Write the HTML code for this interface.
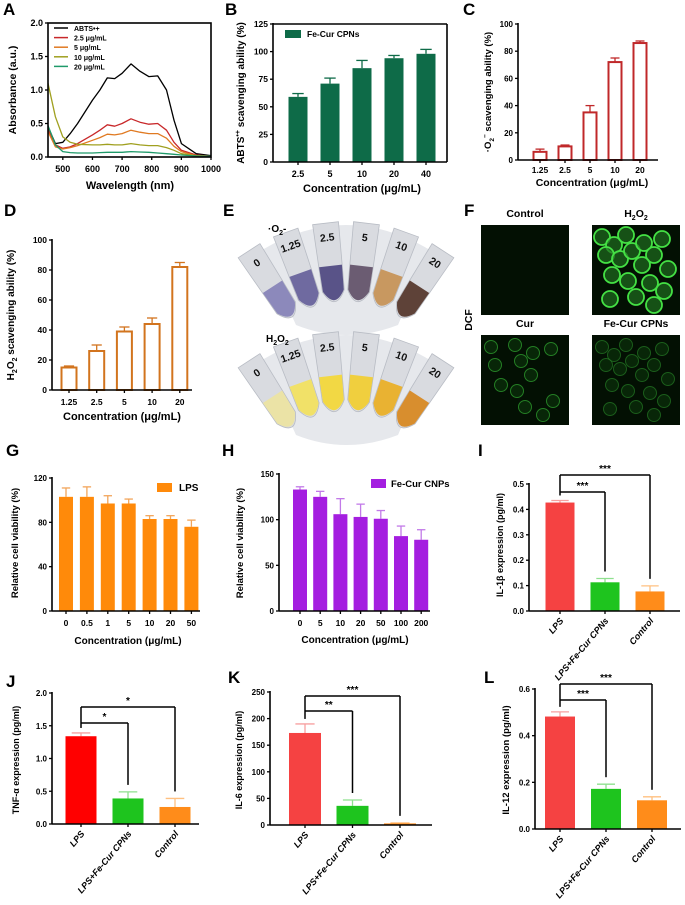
<!DOCTYPE html>
<html><head><meta charset="utf-8"><style>
html,body{margin:0;padding:0;background:#fff;}
svg{display:block;font-family:"Liberation Sans",Arial,sans-serif;font-weight:bold;}
</style></head><body>
<svg id="fig" width="685" height="905" viewBox="0 0 685 905" xmlns="http://www.w3.org/2000/svg"></svg>
<script>
// ---------- DATA ----------
const aWave=[450,475,500,525,550,600,625,650,675,700,730,760,790,820,850,875,900,950,1000];
const aABTS=[0.45,0.2,0.22,0.35,0.5,0.85,1.0,1.18,1.17,1.25,1.39,1.28,1.2,1.21,1.0,0.55,0.2,0.05,0.02];
const a25=[0.42,0.18,0.13,0.15,0.2,0.33,0.4,0.48,0.46,0.5,0.57,0.52,0.49,0.5,0.4,0.22,0.1,0.03,0.01];
const a5=[0.38,0.15,0.12,0.14,0.17,0.25,0.29,0.34,0.33,0.35,0.4,0.37,0.35,0.35,0.28,0.16,0.08,0.02,0.01];
const a10=[1.1,0.6,0.3,0.22,0.19,0.18,0.18,0.19,0.18,0.18,0.2,0.18,0.17,0.17,0.14,0.1,0.05,0.02,0.01];
const a20=[0.47,0.18,0.08,0.065,0.06,0.06,0.065,0.07,0.07,0.07,0.08,0.075,0.07,0.06,0.05,0.04,0.03,0.015,0.01];
const aLegend=["ABTS\u2022+","2.5 \u03bcg/mL","5 \u03bcg/mL","10 \u03bcg/mL","20 \u03bcg/mL"];

const bCats=["2.5","5","10","20","40"];
const bVals=[59,71,85,94,98];
const bErrs=[3,5,7,2.5,4];
const bTicks=[0,25,50,75,100,125];

const cCats=["1.25","2.5","5","10","20"];
const cVals=[6,10,35,72,86];
const cErrs=[2,1,5,3,1.5];
const cTicks=[0,20,40,60,80,100];

const dCats=["1.25","2.5","5","10","20"];
const dVals=[15,26,39,44,82];
const dErrs=[1,4,3,4,3];
const dTicks=[0,20,40,60,80,100];

const gCats=["0","0.5","1","5","10","20","50"];
const gVals=[103,103,97,97,83,83,76];
const gErrs=[8,9,7,4,3,3,6];
const gTicks=[0,40,80,120];

const hCats=["0","5","10","20","50","100","200"];
const hVals=[133,125,106,103,101,82,78];
const hErrs=[3,6,17,14,9,11,11];
const hTicks=[0,50,100,150];

const grpCats=["LPS","LPS+Fe-Cur CPNs","Control"];
const iVals=[0.427,0.113,0.077];
const iErrs=[0.008,0.015,0.022];
const iTicks=[0,0.1,0.2,0.3,0.4,0.5];
const iTickLabels=["0.0","0.1","0.2","0.3","0.4","0.5"];
const iSig=["***","***"];

const jVals=[1.34,0.39,0.26];
const jErrs=[0.05,0.1,0.13];
const jTicks=[0,0.5,1,1.5,2];
const jTickLabels=["0.0","0.5","1.0","1.5","2.0"];
const jSig=["*","*"];

const kVals=[173,36,3];
const kErrs=[17,11,1];
const kTicks=[0,50,100,150,200,250];
const kSig=["**","***"];

const lVals=[0.482,0.172,0.123];
const lErrs=[0.02,0.02,0.015];
const lTicks=[0,0.2,0.4,0.6];
const lTickLabels=["0.0","0.2","0.4","0.6"];
const lSig=["***","***"];

// ---------- HELPERS ----------
const NS="http://www.w3.org/2000/svg";
const svg=document.getElementById('fig');
function mk(parent,tag,attrs,text){
  const e=document.createElementNS(NS,tag);
  for(const k in attrs) e.setAttribute(k,attrs[k]);
  if(text!==undefined) e.textContent=text;
  parent.appendChild(e);
  return e;
}
function grp(name){
  const g=mk(svg,'g',{});
  
  
  return g;
}
function letter(g,x,y,t){
  const e=mk(g,'text',{x:x,y:y,'font-size':17},t);
  
  
}
function line(g,x1,y1,x2,y2,col,w,name){
  const e=mk(g,'line',{x1:x1,y1:y1,x2:x2,y2:y2,stroke:col||'#000','stroke-width':w||1.5});
  
  
  return e;
}
function ytitle(g,x,y,html,fs){
  const e=mk(g,'text',{x:x,y:y,'font-size':fs||10,'text-anchor':'middle',transform:'rotate(-90 '+x+' '+y+')'});
  e.innerHTML=html;
  
  
}
function xtitle(g,x,y,t,fs){
  const e=mk(g,'text',{x:x,y:y,'font-size':fs||11,'text-anchor':'middle'},t);
  
  
}

// generic bar chart
function barChart(g,c){
  const ys=v=>c.yBot-(v/c.max)*(c.yBot-c.yTop);
  const xs=i=>c.first+i*c.step;
  // bars
  c.vals.forEach((v,i)=>{
    const col=Array.isArray(c.color)?c.color[i]:c.color;
    const top=ys(v+c.errs[i]);
    const e1=line(g,xs(i),ys(v),xs(i),top,c.errColor?c.errColor[i]:col,1.3,'error-bar');
    const e2=line(g,xs(i)-c.w*0.3,top,xs(i)+c.w*0.3,top,c.errColor?c.errColor[i]:col,1.3,'error-cap');
    let r;
    if(c.outline){
      r=mk(g,'rect',{x:xs(i)-c.w/2+1,y:ys(v),width:c.w-2,height:c.yBot-ys(v),fill:'#fff',stroke:col,'stroke-width':2});
    }else{
      r=mk(g,'rect',{x:xs(i)-c.w/2,y:ys(v),width:c.w,height:c.yBot-ys(v),fill:col});
    }
    
    
  });
  // axes
  line(g,c.x0,c.yTop-1,c.x0,c.yBot,'#000',1.6,'y-axis');
  line(g,c.x0,c.yBot,c.xEnd,c.yBot,'#000',1.6,'x-axis');
  if(c.box){
    line(g,c.x0,c.yTop,c.xEnd,c.yTop,'#000',1.6,'frame-top');
    line(g,c.xEnd,c.yTop,c.xEnd,c.yBot,'#000',1.6,'frame-right');
  }
  c.ticks.forEach((t,i)=>{
    line(g,c.x0-3,ys(t),c.x0,ys(t),'#000',1.3,'y-tick');
    const e=mk(g,'text',{x:c.x0-5,y:ys(t)+3,'font-size':c.tfs||8.5,'text-anchor':'end'},c.tickLabels?c.tickLabels[i]:String(t));
    
    
  });
  c.cats.forEach((cat,i)=>{
    line(g,xs(i),c.yBot,xs(i),c.yBot+3,'#000',1.3,'x-tick');
    let e;
    if(c.rot){
      const ax=xs(i)+4, ay=c.yBot+10;
      e=mk(g,'text',{x:ax,y:ay,'font-size':9,'font-style':'italic','text-anchor':'end',transform:'rotate(-50 '+ax+' '+ay+')'},cat);
    }else{
      e=mk(g,'text',{x:xs(i),y:c.labY,'font-size':c.lfs||9,'text-anchor':'middle'},cat);
    }
    
    
  });
  if(c.sig){
    const lx=xs(0);
    const ltop=ys(c.vals[0]+c.errs[0])-5;
    line(g,lx,ltop,lx,c.outerY,'#000',1.5,'bracket');
    [[1,c.innerY,c.sig[0]],[2,c.outerY,c.sig[1]]].forEach(([k,yy,s])=>{
      const bx=xs(k);
      line(g,lx,yy,bx,yy,'#000',1.5,'bracket');
      line(g,bx,yy,bx,ys(c.vals[k]+c.errs[k])-7,'#000',1.5,'bracket');
      const st=mk(g,'text',{x:(lx+bx)/2,y:yy-3,'font-size':10,'text-anchor':'middle'},s);
      
      
    });
  }
  return ys;
}

// ---------- PANEL A ----------
(function(){
  const g=grp('panel-a-absorbance');
  letter(g,3,15,'A');
  const x0=48,x1=211,yT=23,yB=157;
  const xs=w=>x0+(w-450)/550*(x1-x0);
  const ys=v=>yB-v/2*(yB-yT);
  const cols=['#000000','#c8282a','#e07a22','#a0a020','#1f9a6a'];
  const series=[aABTS,a25,a5,a10,a20];
  series.forEach((s,k)=>{
    const d=s.map((v,i)=>(i?'L':'M')+xs(aWave[i]).toFixed(1)+' '+ys(v).toFixed(1)).join(' ');
    const p=mk(g,'path',{d:d,fill:'none',stroke:cols[k],'stroke-width':1.3,'stroke-linejoin':'round'});
    
    
  });
  const fr=mk(g,'rect',{x:x0,y:yT,width:x1-x0,height:yB-yT,fill:'none',stroke:'#000','stroke-width':1.6});
  
  
  [0,0.5,1,1.5,2].forEach(t=>{
    line(g,x0-3,ys(t),x0,ys(t),'#000',1.3,'y-tick');
    const e=mk(g,'text',{x:x0-5,y:ys(t)+3,'font-size':9,'text-anchor':'end'},t.toFixed(1));
    
    
  });
  [500,600,700,800,900,1000].forEach(t=>{
    line(g,xs(t),yB,xs(t),yB+3,'#000',1.3,'x-tick');
    const e=mk(g,'text',{x:xs(t),y:172,'font-size':9,'text-anchor':'middle'},String(t));
    
    
  });
  xtitle(g,130,189,'Wavelength (nm)',11);
  ytitle(g,16,90,'Absorbance (a.u.)',10.5);
  aLegend.forEach((t,k)=>{
    const yy=28+k*9.6;
    line(g,54,yy,68,yy,cols[k],1.5,'legend-swatch');
    const e=mk(g,'text',{x:74,y:yy+3,'font-size':7},t);
    
    
  });
})();

// ---------- PANEL B ----------
(function(){
  const g=grp('panel-b-abts');
  letter(g,225,15,'B');
  barChart(g,{x0:273,xEnd:447,yTop:24,yBot:162,max:125,ticks:bTicks,cats:bCats,vals:bVals,errs:bErrs,first:298,step:32,w:19,color:'#0e6b48',box:true,labY:177});
  const r=mk(g,'rect',{x:285,y:30,width:16,height:8,fill:'#0e6b48'});
  
  
  const t=mk(g,'text',{x:307,y:37,'font-size':8.5},'Fe-Cur CPNs');
  
  
  xtitle(g,362,192,'Concentration (\u03bcg/mL)',11);
  ytitle(g,244,93,'ABTS<tspan dy="-4" font-size="7">\u2022+</tspan><tspan dy="4"> scavenging ability (%)</tspan>',10);
})();

// ---------- PANEL C ----------
(function(){
  const g=grp('panel-c-superoxide');
  letter(g,463,15,'C');
  barChart(g,{x0:518,xEnd:658,yTop:24,yBot:160,max:100,ticks:cTicks,cats:cCats,vals:cVals,errs:cErrs,first:540,step:25,w:15,color:'#c0282a',outline:true,labY:173,lfs:8.5,tfs:8});
  xtitle(g,592,186,'Concentration (\u03bcg/mL)',10.5);
  ytitle(g,491,92,'\u00b7O<tspan dy="3" font-size="6.5">2</tspan><tspan dy="-7" font-size="6.5">\u2212</tspan><tspan dy="4"> scavenging ability (%)</tspan>',9.5);
})();

// ---------- PANEL D ----------
(function(){
  const g=grp('panel-d-h2o2');
  letter(g,4,216,'D');
  barChart(g,{x0:52,xEnd:192,yTop:240,yBot:390,max:100,ticks:dTicks,cats:dCats,vals:dVals,errs:dErrs,first:69,step:27.7,w:17,color:'#d2741e',outline:true,labY:405,lfs:8.5,tfs:8.5});
  xtitle(g,122,420,'Concentration (\u03bcg/mL)',11);
  ytitle(g,14,315,'H<tspan dy="3" font-size="7">2</tspan><tspan dy="-3">O</tspan><tspan dy="3" font-size="7">2</tspan><tspan dy="-3"> scavenging ability (%)</tspan>',10);
})();

// ---------- PANEL E (photos approximated) ----------
(function(){
  const g=grp('panel-e-photos');
  letter(g,223,216,'E');
  const labels=["0","1.25","2.5","5","10","20"];
  const topLiq=['#8c89bb','#6f6aa0','#595388','#6b5c72','#c89860','#5e4238'];
  const botLiq=['#ebe3a6','#f1e168','#f2d844','#f0cf3e','#e9b232','#d88e2e'];
  function fan(cy,liq,name){
    const fg=mk(g,'g',{});
    
    
    const bg=mk(fg,'path',{d:'M262 '+(cy-150)+' Q346 '+(cy-200)+' 430 '+(cy-150)+' L398 '+(cy-75)+' Q346 '+(cy-55)+' 296 '+(cy-75)+' Z',fill:'#e6e8ec'});
    
    
    labels.forEach((lb,i)=>{
      const a=-33+i*13.2;
      const tg=mk(fg,'g',{transform:'rotate('+a+' 346 '+cy+')'});
      
      
      const body=mk(tg,'path',{d:'M333 '+(cy-178)+' L359 '+(cy-178)+' L357 '+(cy-110)+' Q346 '+(cy-88)+' 335 '+(cy-110)+' Z',fill:'#d9dbe0',stroke:'#b8bcc4','stroke-width':0.8});
      
      
      const lq=mk(tg,'path',{d:'M334.5 '+(cy-135)+' L357.5 '+(cy-135)+' L356.5 '+(cy-110)+' Q346 '+(cy-91)+' 335.5 '+(cy-110)+' Z',fill:liq[i]});
      
      
      const t=mk(tg,'text',{x:346,y:cy-160,'font-size':10.5,'text-anchor':'middle',fill:'#111'},lb);
      
      
    });
  }
  fan(400,topLiq,'superoxide-tubes');
  fan(510,botLiq,'h2o2-tubes');
  const t1=mk(g,'text',{x:268,y:232,'font-size':10});
  t1.innerHTML='\u00b7O<tspan dy="3" font-size="7">2</tspan><tspan dy="-3">-</tspan>';
  
  
  const t2=mk(g,'text',{x:266,y:342,'font-size':10});
  t2.innerHTML='H<tspan dy="3" font-size="7">2</tspan><tspan dy="-3">O</tspan><tspan dy="3" font-size="7">2</tspan>';
  
  
})();

// ---------- PANEL F (fluorescence images) ----------
(function(){
  const g=grp('panel-f-dcf');
  letter(g,464,216,'F');
  const boxes=[
    {x:481,y:225,t:'Control',col:'#1a6a1a',op:0.25,n:'control-image'},
    {x:592,y:225,t:'H<tspan dy="3" font-size="7">2</tspan><tspan dy="-3">O</tspan><tspan dy="3" font-size="7">2</tspan>',col:'#44e044',op:1,n:'h2o2-image'},
    {x:481,y:335,t:'Cur',col:'#2fa02f',op:0.75,n:'cur-image'},
    {x:592,y:335,t:'Fe-Cur CPNs',col:'#2a8a2a',op:0.6,n:'fe-cur-image'}
  ];
  const cells=[[10,12],[22,20],[34,10],[14,30],[28,34],[40,26],[52,18],[62,30],[50,40],[70,14],[76,44],[20,50],[36,56],[58,58],[72,66],[44,72],[18,74],[62,80]];
  boxes.forEach((b,k)=>{
    const r=mk(g,'rect',{x:b.x,y:b.y,width:88,height:90,fill:'#031003'});
    
    
    if(k>0){
      cells.forEach(([cx,cy],j)=>{
        if(k===2&&j%3===1)return;
        const c=mk(g,'circle',{cx:b.x+cx,cy:b.y+cy,r:k===1?8:6.5,fill:k===1?'#1f6e1f':'#0c300c','fill-opacity':0.7,stroke:b.col,'stroke-width':k===1?1.8:1,'stroke-opacity':b.op});
        
        
      });
    }
    const t=mk(g,'text',{x:b.x+44,y:b.y-8,'font-size':10.5,'text-anchor':'middle'});
    t.innerHTML=b.t;
    
    
  });
  ytitle(g,472,320,'DCF',10.5);
})();

// ---------- PANEL G ----------
(function(){
  const g=grp('panel-g-lps-viability');
  letter(g,6,456,'G');
  barChart(g,{x0:52,xEnd:200,yTop:478,yBot:611,max:120,ticks:gTicks,cats:gCats,vals:gVals,errs:gErrs,first:66,step:20.9,w:14,color:'#ff8a0a',errColor:Array(7).fill('#f2a55a'),labY:626,lfs:8.5,tfs:8});
  const r=mk(g,'rect',{x:157,y:483,width:15,height:9,fill:'#ff8a0a'});
  
  
  const t=mk(g,'text',{x:179,y:491,'font-size':10},'LPS');
  
  
  xtitle(g,128,644,'Concentration (\u03bcg/mL)',10);
  ytitle(g,18,543,'Relative cell viability (%)',9.5);
})();

// ---------- PANEL H ----------
(function(){
  const g=grp('panel-h-fecur-viability');
  letter(g,222,456,'H');
  barChart(g,{x0:279,xEnd:430,yTop:474,yBot:611,max:150,ticks:hTicks,cats:hCats,vals:hVals,errs:hErrs,first:300,step:20.2,w:14,color:'#a41ee0',errColor:Array(7).fill('#c27ae8'),labY:626,lfs:8.5,tfs:8});
  const r=mk(g,'rect',{x:371,y:479,width:15,height:9,fill:'#a41ee0'});
  
  
  const t=mk(g,'text',{x:391,y:487,'font-size':9.5},'Fe-Cur CNPs');
  
  
  xtitle(g,355,643,'Concentration (\u03bcg/mL)',10);
  ytitle(g,243,543,'Relative cell viability (%)',9.5);
})();

// ---------- PANELS I, J, K, L ----------
const pale=['#f7a0a0','#8ee08e','#ffc080'];
(function(){
  const g=grp('panel-i-il1b');
  letter(g,478,456,'I');
  barChart(g,{x0:529,xEnd:680,yTop:484,yBot:611,max:0.5,ticks:iTicks,tickLabels:iTickLabels,cats:grpCats,vals:iVals,errs:iErrs,first:560,step:45,w:29,color:['#f54242','#1ec41e','#ff8c1a'],errColor:pale,rot:true,sig:iSig,innerY:492,outerY:475,tfs:8});
  ytitle(g,503,545,'IL-1\u03b2 expression (pg/ml)',9);
})();
(function(){
  const g=grp('panel-j-tnfa');
  letter(g,6,687,'J');
  barChart(g,{x0:52,xEnd:199,yTop:693,yBot:824,max:2,ticks:jTicks,tickLabels:jTickLabels,cats:grpCats,vals:jVals,errs:jErrs,first:81,step:47,w:31,color:['#ff0000','#1ec41e','#ff8c1a'],errColor:pale,rot:true,sig:jSig,innerY:723,outerY:707,tfs:8});
  ytitle(g,19,760,'TNF-\u03b1 expression (pg/ml)',9);
})();
(function(){
  const g=grp('panel-k-il6');
  letter(g,228,683,'K');
  barChart(g,{x0:270,xEnd:432,yTop:692,yBot:825,max:250,ticks:kTicks,cats:grpCats,vals:kVals,errs:kErrs,first:305,step:47.5,w:32,color:['#f54242','#1ec41e','#ff8c1a'],errColor:pale,rot:true,sig:kSig,innerY:711,outerY:696,tfs:8});
  ytitle(g,242,760,'IL-6 expression (pg/ml)',9);
})();
(function(){
  const g=grp('panel-l-il12');
  letter(g,484,683,'L');
  barChart(g,{x0:535,xEnd:681,yTop:689,yBot:829,max:0.6,ticks:lTicks,tickLabels:lTickLabels,cats:grpCats,vals:lVals,errs:lErrs,first:560,step:46,w:30,color:['#f54242','#1ec41e','#ff8c1a'],errColor:pale,rot:true,sig:lSig,innerY:700,outerY:684,tfs:8});
  ytitle(g,509,760,'IL-12 expression (pg/ml)',9.5);
})();
</script>
</body></html>
